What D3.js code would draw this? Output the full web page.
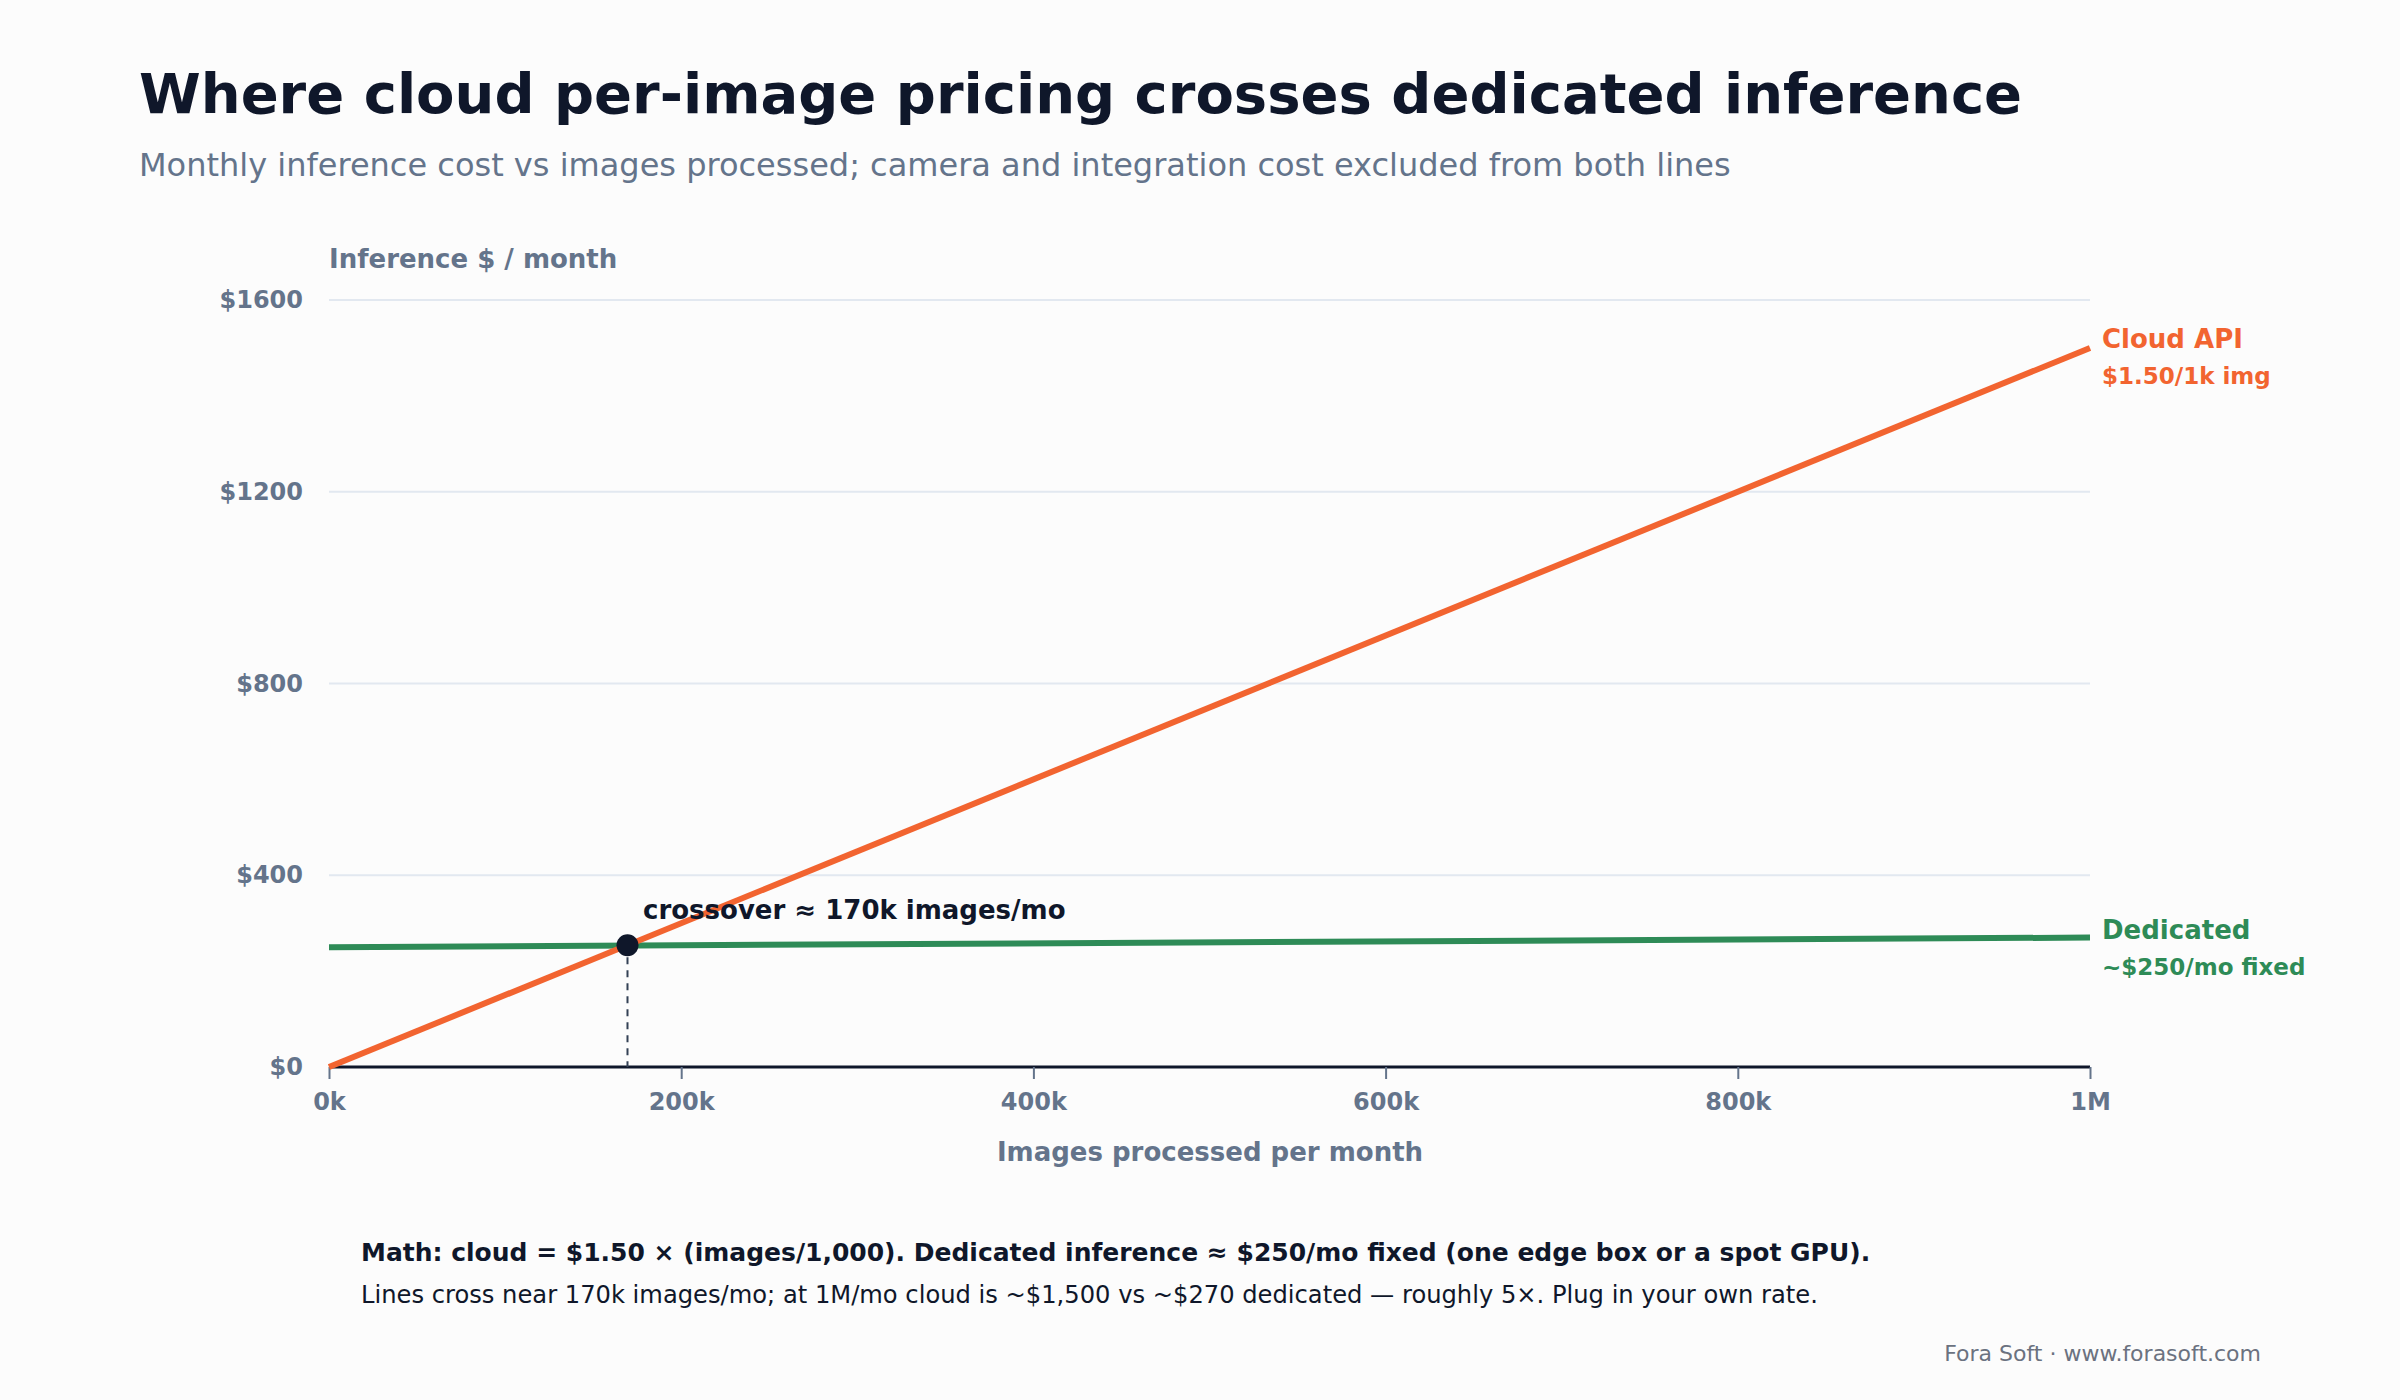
<!DOCTYPE html>
<html><head><meta charset="utf-8">
<script src="https://cdn.jsdelivr.net/npm/d3@7"></script>
<style>body{margin:0;background:#fcfcfc}text{font-family:"DejaVu Sans",sans-serif}</style>
</head><body><svg id="c" width="2400" height="1400"></svg>
<script>
const xDomain=[0,1000000];
const yTicks=[0,400,800,1200,1600];
const xTicks=[0,200000,400000,600000,800000,1000000];
const xTickLabels=["0k","200k","400k","600k","800k","1M"];
const cloudX=[0,1000000], cloudY=[0,1500];
const dedX=[0,1000000], dedY=[250,270];
const crossX=169500, crossY=254;

const svg=d3.select("#c");
svg.append("rect").attr("width",2400).attr("height",1400).attr("fill","#fcfcfc");
const L=329,R=2090,T=300,B=1067;
const x=d3.scaleLinear().domain(xDomain).range([L,R]);
const y=d3.scaleLinear().domain([0,1600]).range([B,T]);
const gray="#64748b",dark="#0f172a",orange="#f26430",green="#2e8b57";

svg.append("text").attr("x",139).attr("y",113).attr("font-size",56).attr("font-weight","bold").attr("fill",dark).text("Where cloud per-image pricing crosses dedicated inference");
svg.append("text").attr("x",139).attr("y",176).attr("font-size",32).attr("fill",gray).text("Monthly inference cost vs images processed; camera and integration cost excluded from both lines");

svg.append("g").selectAll("line").data(yTicks.slice(1)).join("line")
 .attr("x1",L).attr("x2",R).attr("y1",d=>y(d)).attr("y2",d=>y(d)).attr("stroke","#e2e8f0").attr("stroke-width",2);
svg.append("g").selectAll("text").data(yTicks).join("text")
 .attr("x",303).attr("y",d=>y(d)+8).attr("text-anchor","end").attr("font-size",24).attr("font-weight","bold").attr("fill",gray).text(d=>"$"+d);
svg.append("text").attr("x",329).attr("y",268).attr("font-size",26).attr("font-weight","bold").attr("fill",gray).text("Inference $ / month");
const xa=svg.append("g").attr("transform",`translate(0,${B})`).call(d3.axisBottom(x).tickValues(xTicks).tickFormat((d,i)=>xTickLabels[i]).tickSize(12).tickPadding(14));
xa.select(".domain").attr("stroke",dark).attr("stroke-width",3).attr("d",`M${L},0H${R}`);
xa.selectAll(".tick line").attr("stroke",gray).attr("stroke-width",2);
xa.selectAll(".tick text").attr("font-size",24).attr("font-weight","bold").attr("fill",gray).attr("font-family","DejaVu Sans");
svg.append("text").attr("x",1210).attr("y",1161).attr("text-anchor","middle").attr("font-size",26).attr("font-weight","bold").attr("fill",gray).text("Images processed per month");

const line=d3.line().x(d=>x(d[0])).y(d=>y(d[1]));
svg.append("path").attr("d",line(dedX.map((v,i)=>[v,dedY[i]]))).attr("fill","none").attr("stroke",green).attr("stroke-width",6);
svg.append("path").attr("d",line(cloudX.map((v,i)=>[v,cloudY[i]]))).attr("fill","none").attr("stroke",orange).attr("stroke-width",6);

svg.append("line").attr("x1",x(crossX)).attr("x2",x(crossX)).attr("y1",y(crossY)+12).attr("y2",B).attr("stroke","#334155").attr("stroke-width",2).attr("stroke-dasharray","7,6");
svg.append("circle").attr("cx",x(crossX)).attr("cy",y(crossY)).attr("r",11).attr("fill",dark);
svg.append("text").attr("x",643).attr("y",919).attr("font-size",26).attr("font-weight","bold").attr("fill",dark).text("crossover ≈ 170k images/mo");

svg.append("text").attr("x",2102).attr("y",348).attr("font-size",26).attr("font-weight","bold").attr("fill",orange).text("Cloud API");
svg.append("text").attr("x",2102).attr("y",384).attr("font-size",23).attr("font-weight","bold").attr("fill",orange).text("$1.50/1k img");
svg.append("text").attr("x",2102).attr("y",939).attr("font-size",26).attr("font-weight","bold").attr("fill",green).text("Dedicated");
svg.append("text").attr("x",2102).attr("y",975).attr("font-size",23).attr("font-weight","bold").attr("fill",green).text("~$250/mo fixed");

svg.append("text").attr("x",361).attr("y",1261).attr("font-size",25).attr("font-weight","bold").attr("fill",dark).text("Math: cloud = $1.50 × (images/1,000). Dedicated inference ≈ $250/mo fixed (one edge box or a spot GPU).");
svg.append("text").attr("x",361).attr("y",1303).attr("font-size",24.2).attr("fill",dark).text("Lines cross near 170k images/mo; at 1M/mo cloud is ~$1,500 vs ~$270 dedicated — roughly 5×. Plug in your own rate.");
svg.append("text").attr("x",2261).attr("y",1361).attr("text-anchor","end").attr("font-size",22).attr("fill","#6b7280").text("Fora Soft · www.forasoft.com");
</script></body></html>
